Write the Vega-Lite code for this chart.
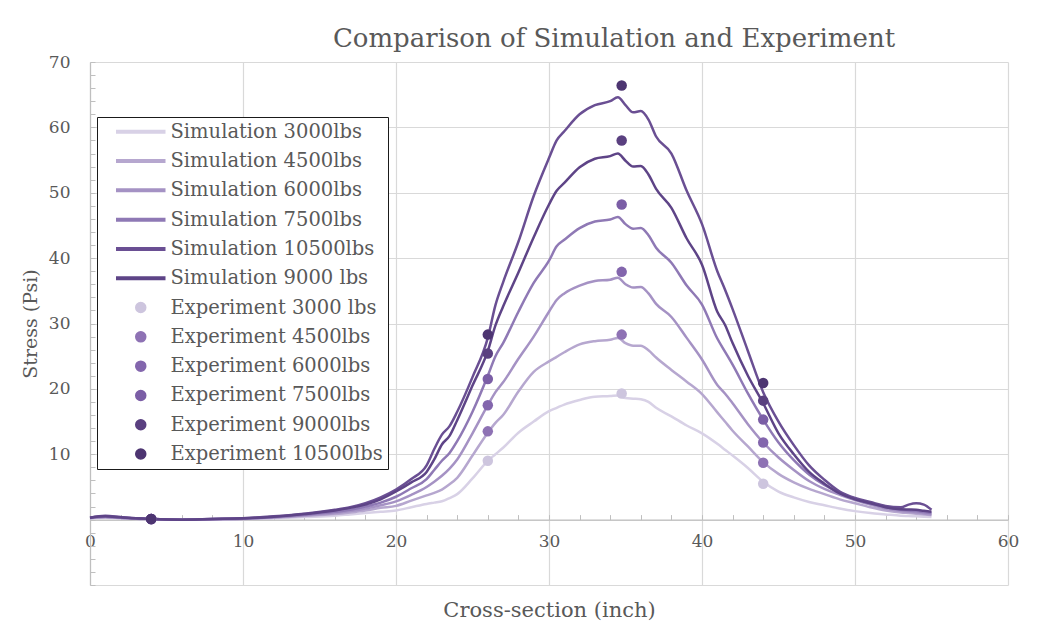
{
  "$schema": "https://vega.github.io/schema/vega-lite/v6.json",
  "width": 918,
  "height": 523,
  "autosize": {"type": "none"},
  "padding": {"left": 90, "top": 62, "right": 31, "bottom": 47},
  "background": "white",
  "config": {"view": {"stroke": null}},
  "title": {"text": "Comparison of Simulation  and Experiment", "font": "DejaVu Serif", "fontSize": 26, "fontWeight": "normal", "color": "#595959", "anchor": "middle", "frame": "group", "dx": 65, "offset": 1},
  "datasets": {
    "sim": [
      {"x":0,"Simulation 3000lbs":0.2,"Simulation 4500lbs":0.2,"Simulation 6000lbs":0.25,"Simulation 7500lbs":0.3,"Simulation 10500lbs":0.3,"Simulation 9000 lbs":0.3},
      {"x":1,"Simulation 3000lbs":0.3,"Simulation 4500lbs":0.35,"Simulation 6000lbs":0.4,"Simulation 7500lbs":0.45,"Simulation 10500lbs":0.6,"Simulation 9000 lbs":0.5},
      {"x":2,"Simulation 3000lbs":0.2,"Simulation 4500lbs":0.25,"Simulation 6000lbs":0.3,"Simulation 7500lbs":0.3,"Simulation 10500lbs":0.4,"Simulation 9000 lbs":0.35},
      {"x":3,"Simulation 3000lbs":0.1,"Simulation 4500lbs":0.15,"Simulation 6000lbs":0.15,"Simulation 7500lbs":0.2,"Simulation 10500lbs":0.2,"Simulation 9000 lbs":0.2},
      {"x":4,"Simulation 3000lbs":0.05,"Simulation 4500lbs":0.1,"Simulation 6000lbs":0.1,"Simulation 7500lbs":0.1,"Simulation 10500lbs":0.1,"Simulation 9000 lbs":0.1},
      {"x":6,"Simulation 3000lbs":0,"Simulation 4500lbs":0,"Simulation 6000lbs":0,"Simulation 7500lbs":0,"Simulation 10500lbs":0,"Simulation 9000 lbs":0},
      {"x":8,"Simulation 3000lbs":0.05,"Simulation 4500lbs":0.05,"Simulation 6000lbs":0.05,"Simulation 7500lbs":0.1,"Simulation 10500lbs":0.1,"Simulation 9000 lbs":0.1},
      {"x":10,"Simulation 3000lbs":0.1,"Simulation 4500lbs":0.1,"Simulation 6000lbs":0.15,"Simulation 7500lbs":0.15,"Simulation 10500lbs":0.2,"Simulation 9000 lbs":0.2},
      {"x":12,"Simulation 3000lbs":0.2,"Simulation 4500lbs":0.3,"Simulation 6000lbs":0.35,"Simulation 7500lbs":0.4,"Simulation 10500lbs":0.5,"Simulation 9000 lbs":0.45},
      {"x":14,"Simulation 3000lbs":0.4,"Simulation 4500lbs":0.55,"Simulation 6000lbs":0.65,"Simulation 7500lbs":0.75,"Simulation 10500lbs":0.9,"Simulation 9000 lbs":0.85},
      {"x":16,"Simulation 3000lbs":0.6,"Simulation 4500lbs":0.85,"Simulation 6000lbs":1.0,"Simulation 7500lbs":1.2,"Simulation 10500lbs":1.5,"Simulation 9000 lbs":1.4},
      {"x":17,"Simulation 3000lbs":0.8,"Simulation 4500lbs":1.1,"Simulation 6000lbs":1.3,"Simulation 7500lbs":1.5,"Simulation 10500lbs":1.9,"Simulation 9000 lbs":1.8},
      {"x":18,"Simulation 3000lbs":1.0,"Simulation 4500lbs":1.4,"Simulation 6000lbs":1.7,"Simulation 7500lbs":2.0,"Simulation 10500lbs":2.5,"Simulation 9000 lbs":2.3},
      {"x":19,"Simulation 3000lbs":1.2,"Simulation 4500lbs":1.8,"Simulation 6000lbs":2.2,"Simulation 7500lbs":2.6,"Simulation 10500lbs":3.4,"Simulation 9000 lbs":3.1},
      {"x":20,"Simulation 3000lbs":1.4,"Simulation 4500lbs":2.1,"Simulation 6000lbs":2.8,"Simulation 7500lbs":3.5,"Simulation 10500lbs":4.6,"Simulation 9000 lbs":4.3},
      {"x":21,"Simulation 3000lbs":1.9,"Simulation 4500lbs":2.9,"Simulation 6000lbs":3.8,"Simulation 7500lbs":4.8,"Simulation 10500lbs":6.2,"Simulation 9000 lbs":5.7},
      {"x":22,"Simulation 3000lbs":2.4,"Simulation 4500lbs":3.7,"Simulation 6000lbs":5.0,"Simulation 7500lbs":6.2,"Simulation 10500lbs":8.3,"Simulation 9000 lbs":7.3},
      {"x":22.5,"Simulation 3000lbs":2.6,"Simulation 4500lbs":4.1,"Simulation 6000lbs":5.8,"Simulation 7500lbs":7.6,"Simulation 10500lbs":10.8,"Simulation 9000 lbs":9.2},
      {"x":23,"Simulation 3000lbs":2.8,"Simulation 4500lbs":4.6,"Simulation 6000lbs":6.7,"Simulation 7500lbs":9.0,"Simulation 10500lbs":13.0,"Simulation 9000 lbs":11.5},
      {"x":23.5,"Simulation 3000lbs":3.3,"Simulation 4500lbs":5.4,"Simulation 6000lbs":7.8,"Simulation 7500lbs":10.2,"Simulation 10500lbs":14.3,"Simulation 9000 lbs":12.8},
      {"x":24,"Simulation 3000lbs":3.9,"Simulation 4500lbs":6.4,"Simulation 6000lbs":9.2,"Simulation 7500lbs":12.0,"Simulation 10500lbs":16.5,"Simulation 9000 lbs":15.2},
      {"x":25,"Simulation 3000lbs":6.3,"Simulation 4500lbs":9.8,"Simulation 6000lbs":13.2,"Simulation 7500lbs":16.5,"Simulation 10500lbs":21.8,"Simulation 9000 lbs":20.5},
      {"x":26,"Simulation 3000lbs":9.0,"Simulation 4500lbs":13.3,"Simulation 6000lbs":17.5,"Simulation 7500lbs":22.0,"Simulation 10500lbs":27.8,"Simulation 9000 lbs":25.8},
      {"x":26.5,"Simulation 3000lbs":10.0,"Simulation 4500lbs":14.8,"Simulation 6000lbs":19.5,"Simulation 7500lbs":25.0,"Simulation 10500lbs":32.8,"Simulation 9000 lbs":29.7},
      {"x":27,"Simulation 3000lbs":11.0,"Simulation 4500lbs":16.0,"Simulation 6000lbs":21.0,"Simulation 7500lbs":27.0,"Simulation 10500lbs":36.3,"Simulation 9000 lbs":32.6},
      {"x":28,"Simulation 3000lbs":13.3,"Simulation 4500lbs":19.6,"Simulation 6000lbs":24.6,"Simulation 7500lbs":31.8,"Simulation 10500lbs":42.5,"Simulation 9000 lbs":37.8},
      {"x":29,"Simulation 3000lbs":15.0,"Simulation 4500lbs":22.6,"Simulation 6000lbs":28.0,"Simulation 7500lbs":36.2,"Simulation 10500lbs":49.5,"Simulation 9000 lbs":43.2},
      {"x":30,"Simulation 3000lbs":16.6,"Simulation 4500lbs":24.2,"Simulation 6000lbs":31.8,"Simulation 7500lbs":39.6,"Simulation 10500lbs":55.3,"Simulation 9000 lbs":48.2},
      {"x":30.5,"Simulation 3000lbs":17.1,"Simulation 4500lbs":24.9,"Simulation 6000lbs":33.6,"Simulation 7500lbs":41.8,"Simulation 10500lbs":58.0,"Simulation 9000 lbs":50.3},
      {"x":31,"Simulation 3000lbs":17.6,"Simulation 4500lbs":25.6,"Simulation 6000lbs":34.6,"Simulation 7500lbs":42.8,"Simulation 10500lbs":59.4,"Simulation 9000 lbs":51.5},
      {"x":32,"Simulation 3000lbs":18.3,"Simulation 4500lbs":26.8,"Simulation 6000lbs":35.8,"Simulation 7500lbs":44.6,"Simulation 10500lbs":62.0,"Simulation 9000 lbs":53.9},
      {"x":33,"Simulation 3000lbs":18.8,"Simulation 4500lbs":27.3,"Simulation 6000lbs":36.5,"Simulation 7500lbs":45.6,"Simulation 10500lbs":63.4,"Simulation 9000 lbs":55.2},
      {"x":34,"Simulation 3000lbs":18.9,"Simulation 4500lbs":27.5,"Simulation 6000lbs":36.7,"Simulation 7500lbs":45.9,"Simulation 10500lbs":64.0,"Simulation 9000 lbs":55.6},
      {"x":34.5,"Simulation 3000lbs":19.0,"Simulation 4500lbs":27.8,"Simulation 6000lbs":37.0,"Simulation 7500lbs":46.3,"Simulation 10500lbs":64.6,"Simulation 9000 lbs":56.0},
      {"x":35,"Simulation 3000lbs":18.6,"Simulation 4500lbs":27.0,"Simulation 6000lbs":36.0,"Simulation 7500lbs":45.2,"Simulation 10500lbs":63.4,"Simulation 9000 lbs":54.9},
      {"x":35.5,"Simulation 3000lbs":18.5,"Simulation 4500lbs":26.6,"Simulation 6000lbs":35.5,"Simulation 7500lbs":44.5,"Simulation 10500lbs":62.3,"Simulation 9000 lbs":54.0},
      {"x":36,"Simulation 3000lbs":18.4,"Simulation 4500lbs":26.6,"Simulation 6000lbs":35.6,"Simulation 7500lbs":44.6,"Simulation 10500lbs":62.5,"Simulation 9000 lbs":54.1},
      {"x":36.5,"Simulation 3000lbs":18.0,"Simulation 4500lbs":25.9,"Simulation 6000lbs":34.6,"Simulation 7500lbs":43.5,"Simulation 10500lbs":61.2,"Simulation 9000 lbs":52.8},
      {"x":37,"Simulation 3000lbs":17.1,"Simulation 4500lbs":24.8,"Simulation 6000lbs":33.0,"Simulation 7500lbs":41.6,"Simulation 10500lbs":58.6,"Simulation 9000 lbs":50.6},
      {"x":38,"Simulation 3000lbs":15.8,"Simulation 4500lbs":22.9,"Simulation 6000lbs":31.0,"Simulation 7500lbs":39.3,"Simulation 10500lbs":56.0,"Simulation 9000 lbs":47.7},
      {"x":39,"Simulation 3000lbs":14.4,"Simulation 4500lbs":21.1,"Simulation 6000lbs":27.8,"Simulation 7500lbs":35.8,"Simulation 10500lbs":50.3,"Simulation 9000 lbs":43.0},
      {"x":40,"Simulation 3000lbs":13.2,"Simulation 4500lbs":19.2,"Simulation 6000lbs":24.5,"Simulation 7500lbs":32.9,"Simulation 10500lbs":45.2,"Simulation 9000 lbs":39.0},
      {"x":41,"Simulation 3000lbs":11.6,"Simulation 4500lbs":16.4,"Simulation 6000lbs":20.6,"Simulation 7500lbs":27.7,"Simulation 10500lbs":38.0,"Simulation 9000 lbs":31.8},
      {"x":41.5,"Simulation 3000lbs":10.7,"Simulation 4500lbs":15.0,"Simulation 6000lbs":19.3,"Simulation 7500lbs":25.7,"Simulation 10500lbs":35.2,"Simulation 9000 lbs":29.8},
      {"x":42,"Simulation 3000lbs":9.8,"Simulation 4500lbs":13.6,"Simulation 6000lbs":17.8,"Simulation 7500lbs":23.7,"Simulation 10500lbs":32.2,"Simulation 9000 lbs":27.0},
      {"x":43,"Simulation 3000lbs":7.9,"Simulation 4500lbs":11.2,"Simulation 6000lbs":14.6,"Simulation 7500lbs":19.3,"Simulation 10500lbs":25.8,"Simulation 9000 lbs":22.0},
      {"x":44,"Simulation 3000lbs":5.8,"Simulation 4500lbs":8.8,"Simulation 6000lbs":11.8,"Simulation 7500lbs":15.3,"Simulation 10500lbs":19.5,"Simulation 9000 lbs":17.8},
      {"x":45,"Simulation 3000lbs":4.3,"Simulation 4500lbs":7.0,"Simulation 6000lbs":9.5,"Simulation 7500lbs":11.8,"Simulation 10500lbs":15.0,"Simulation 9000 lbs":13.2},
      {"x":46,"Simulation 3000lbs":3.4,"Simulation 4500lbs":5.7,"Simulation 6000lbs":7.6,"Simulation 7500lbs":9.1,"Simulation 10500lbs":11.4,"Simulation 9000 lbs":10.0},
      {"x":47,"Simulation 3000lbs":2.7,"Simulation 4500lbs":4.7,"Simulation 6000lbs":5.9,"Simulation 7500lbs":6.9,"Simulation 10500lbs":8.3,"Simulation 9000 lbs":7.3},
      {"x":48,"Simulation 3000lbs":2.2,"Simulation 4500lbs":3.9,"Simulation 6000lbs":4.7,"Simulation 7500lbs":5.3,"Simulation 10500lbs":6.1,"Simulation 9000 lbs":5.5},
      {"x":49,"Simulation 3000lbs":1.7,"Simulation 4500lbs":3.1,"Simulation 6000lbs":3.8,"Simulation 7500lbs":4.1,"Simulation 10500lbs":4.3,"Simulation 9000 lbs":4.0},
      {"x":50,"Simulation 3000lbs":1.3,"Simulation 4500lbs":2.5,"Simulation 6000lbs":3.0,"Simulation 7500lbs":3.2,"Simulation 10500lbs":3.3,"Simulation 9000 lbs":3.1},
      {"x":51,"Simulation 3000lbs":1.0,"Simulation 4500lbs":1.9,"Simulation 6000lbs":2.3,"Simulation 7500lbs":2.5,"Simulation 10500lbs":2.7,"Simulation 9000 lbs":2.5},
      {"x":52,"Simulation 3000lbs":0.8,"Simulation 4500lbs":1.4,"Simulation 6000lbs":1.7,"Simulation 7500lbs":1.9,"Simulation 10500lbs":2.1,"Simulation 9000 lbs":1.9},
      {"x":53,"Simulation 3000lbs":0.6,"Simulation 4500lbs":1.1,"Simulation 6000lbs":1.3,"Simulation 7500lbs":1.5,"Simulation 10500lbs":1.9,"Simulation 9000 lbs":1.6},
      {"x":53.5,"Simulation 3000lbs":0.55,"Simulation 4500lbs":1.0,"Simulation 6000lbs":1.2,"Simulation 7500lbs":1.4,"Simulation 10500lbs":2.3,"Simulation 9000 lbs":1.55},
      {"x":54,"Simulation 3000lbs":0.5,"Simulation 4500lbs":0.9,"Simulation 6000lbs":1.1,"Simulation 7500lbs":1.3,"Simulation 10500lbs":2.5,"Simulation 9000 lbs":1.5},
      {"x":54.5,"Simulation 3000lbs":0.45,"Simulation 4500lbs":0.8,"Simulation 6000lbs":0.95,"Simulation 7500lbs":1.15,"Simulation 10500lbs":2.3,"Simulation 9000 lbs":1.35},
      {"x":55,"Simulation 3000lbs":0.4,"Simulation 4500lbs":0.7,"Simulation 6000lbs":0.8,"Simulation 7500lbs":1.0,"Simulation 10500lbs":1.5,"Simulation 9000 lbs":1.2}
    ],
    "exp": [
      {"x":4,"series":"Experiment 3000 lbs","stress":0.1},
      {"x":4,"series":"Experiment 4500lbs","stress":0.1},
      {"x":4,"series":"Experiment 6000lbs","stress":0.1},
      {"x":4,"series":"Experiment 7500lbs","stress":0.1},
      {"x":4,"series":"Experiment 9000lbs","stress":0.1},
      {"x":4,"series":"Experiment 10500lbs","stress":0.1},
      {"x":26,"series":"Experiment 3000 lbs","stress":9.0},
      {"x":26,"series":"Experiment 4500lbs","stress":13.5},
      {"x":26,"series":"Experiment 6000lbs","stress":17.5},
      {"x":26,"series":"Experiment 7500lbs","stress":21.5},
      {"x":26,"series":"Experiment 9000lbs","stress":25.4},
      {"x":26,"series":"Experiment 10500lbs","stress":28.3},
      {"x":34.75,"series":"Experiment 3000 lbs","stress":19.3},
      {"x":34.75,"series":"Experiment 4500lbs","stress":28.3},
      {"x":34.75,"series":"Experiment 6000lbs","stress":37.9},
      {"x":34.75,"series":"Experiment 7500lbs","stress":48.2},
      {"x":34.75,"series":"Experiment 9000lbs","stress":58.0},
      {"x":34.75,"series":"Experiment 10500lbs","stress":66.4},
      {"x":44,"series":"Experiment 3000 lbs","stress":5.5},
      {"x":44,"series":"Experiment 4500lbs","stress":8.7},
      {"x":44,"series":"Experiment 6000lbs","stress":11.8},
      {"x":44,"series":"Experiment 7500lbs","stress":15.3},
      {"x":44,"series":"Experiment 9000lbs","stress":18.2},
      {"x":44,"series":"Experiment 10500lbs","stress":20.9}
    ]
  },
  "encoding": {
    "x": {
      "field": "x", "type": "quantitative",
      "scale": {"domain": [0, 60], "nice": false, "zero": false},
      "axis": {
        "title": "Cross-section (inch)",
        "titleFont": "DejaVu Serif", "titleFontSize": 21, "titleFontWeight": "normal", "titleColor": "#595959", "titlePadding": 50,
        "values": [0,2,4,6,8,10,12,14,16,18,20,22,24,26,28,30,32,34,36,38,40,42,44,46,48,50,52,54,56,58,60],
        "labelExpr": "datum.value % 10 === 0 ? datum.label : ''",
        "labelFont": "DejaVu Serif", "labelFontSize": 17, "labelColor": "#595959", "labelPadding": 19,
        "labelFlush": false, "labelOverlap": false,
        "offset": -65.4,
        "grid": true,
        "gridColor": {"condition": {"test": "datum.value % 10 === 0", "value": "#d9d9d9"}, "value": "transparent"},
        "gridWidth": 1.2,
        "domainColor": "#bfbfbf", "domainWidth": 1.2,
        "tickColor": "#bfbfbf", "tickSize": -5, "tickWidth": 1
      }
    },
    "y": {
      "field": "stress", "type": "quantitative",
      "scale": {"domain": [-10, 70], "nice": false, "zero": false},
      "axis": {
        "title": "Stress (Psi)",
        "titleFont": "DejaVu Serif", "titleFontSize": 19, "titleFontWeight": "normal", "titleColor": "#595959", "titlePadding": 8,
        "values": [-10,-8,-6,-4,-2,0,2,4,6,8,10,12,14,16,18,20,22,24,26,28,30,32,34,36,38,40,42,44,46,48,50,52,54,56,58,60,62,64,66,68,70],
        "labelExpr": "datum.value % 10 === 0 && datum.value > 0 ? datum.label : ''",
        "labelFont": "DejaVu Serif", "labelFontSize": 17, "labelColor": "#595959", "labelPadding": 25,
        "labelOverlap": false,
        "grid": true,
        "gridColor": {"condition": {"test": "datum.value % 10 === 0", "value": "#d9d9d9"}, "value": "transparent"},
        "gridWidth": 1.2,
        "domainColor": "#bfbfbf", "domainWidth": 1.2,
        "tickColor": "#bfbfbf", "tickSize": -5, "tickWidth": 1
      }
    },
    "color": {
      "field": "series", "type": "nominal",
      "scale": {
        "domain": ["Simulation 3000lbs","Simulation 4500lbs","Simulation 6000lbs","Simulation 7500lbs","Simulation 10500lbs","Simulation 9000 lbs","Experiment 3000 lbs","Experiment 4500lbs","Experiment 6000lbs","Experiment 7500lbs","Experiment 9000lbs","Experiment 10500lbs"],
        "range": ["#d8d1e6","#b6a7cf","#a592c4","#8f79b5","#6a4f93","#5e4487","#cdc5de","#8e72b4","#8366ad","#7b5ea6","#5a4080","#4d3571"]
      },
      "legend": {
        "orient": "none", "legendX": 7, "legendY": 55, "title": null,
        "strokeColor": "#1a1a1a", "fillColor": "white", "padding": 5,
        "labelFont": "DejaVu Serif", "labelFontSize": 19.5, "labelColor": "#595959", "labelLimit": 400,
        "symbolSize": 100, "symbolOffset": 29, "labelOffset": 20, "rowPadding": 8.3,
        "encode": {
          "symbols": {
            "update": {
              "shape": {"signal": "indexof(datum.value, 'Sim') === 0 ? 'M-4.8,-0.25L4.8,-0.25L4.8,0.25L-4.8,0.25Z' : 'circle'"}
            }
          }
        }
      }
    }
  },
  "layer": [
    {
      "data": {"name": "sim"},
      "transform": [{"fold": ["Simulation 3000lbs","Simulation 4500lbs","Simulation 6000lbs","Simulation 7500lbs","Simulation 10500lbs","Simulation 9000 lbs"], "as": ["series", "stress"]}],
      "mark": {"type": "line", "strokeWidth": 2.5, "interpolate": "monotone"}
    },
    {
      "data": {"name": "exp"},
      "mark": {"type": "circle", "size": 110, "opacity": 1}
    }
  ]
}
